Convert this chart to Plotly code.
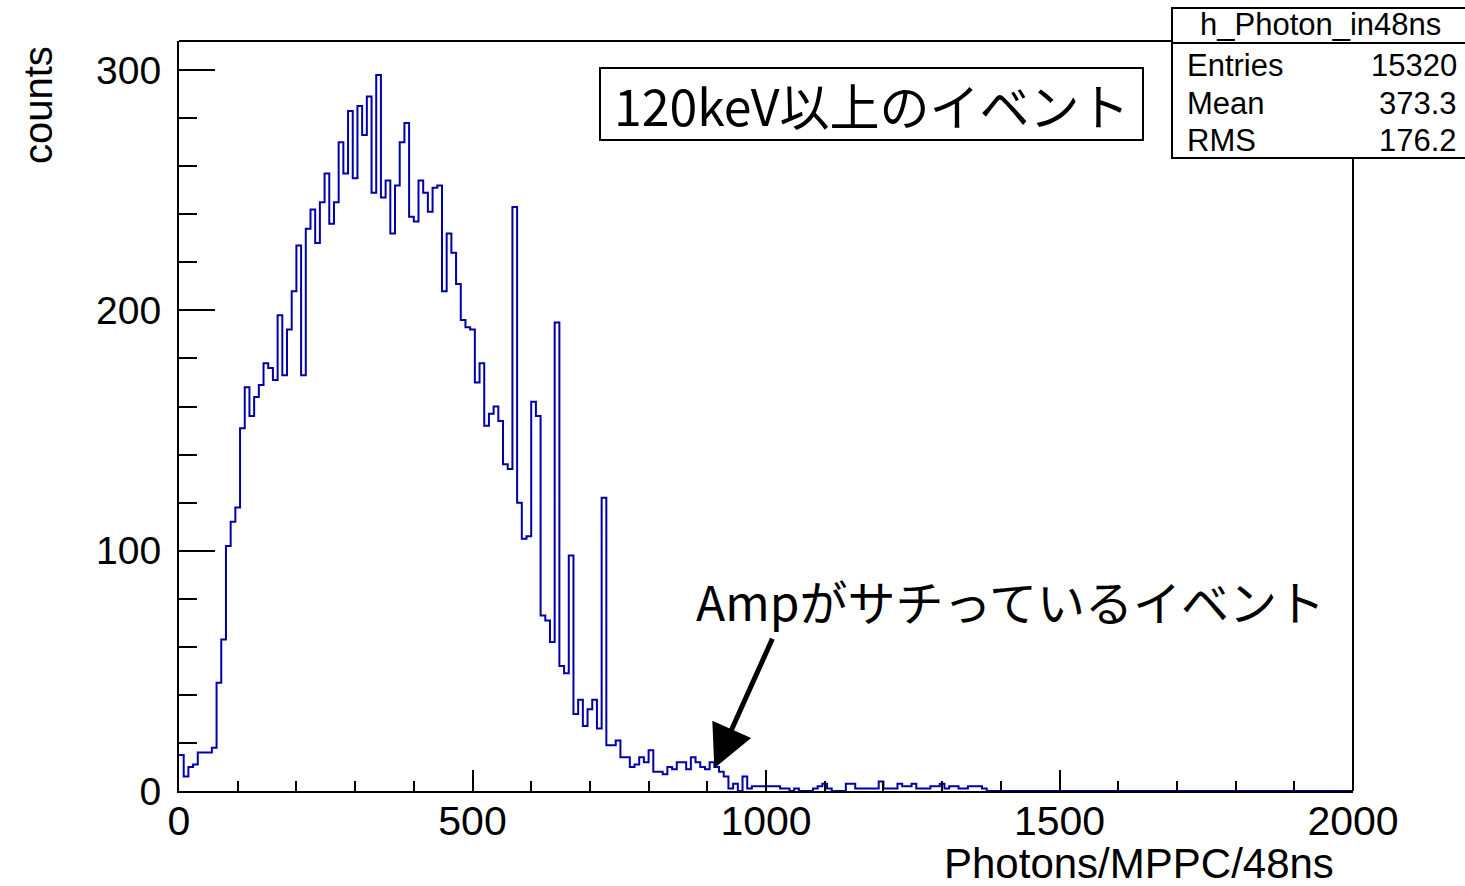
import plotly.graph_objects as go

# ---------------- data ----------------
x_min = 0
x_max = 2000
bin_width = 8  # 250 bins over 0..2000

counts = [
    15, 6, 10, 11, 16, 16, 16, 18, 45, 63,
    102, 112, 118, 151, 168, 156, 164, 169, 178, 176,
    171, 198, 173, 192, 208, 227, 173, 234, 242, 228,
    245, 257, 236, 245, 270, 257, 283, 255, 285, 273,
    289, 249, 298, 247, 254, 232, 252, 270, 278, 239,
    237, 254, 249, 241, 251, 252, 208, 232, 224, 211,
    196, 193, 192, 170, 178, 152, 157, 160, 154, 136,
    134, 243, 120, 105, 106, 162, 156, 73, 71, 62,
    195, 52, 49, 98, 32, 38, 27, 34, 38, 26,
    122, 19, 19, 21, 14, 14, 10, 11, 14, 12,
    17, 8, 8, 7, 10, 9, 12, 12, 9, 14,
    12, 10, 9, 12, 10, 8, 6, 1, 3, 0,
    6, 1, 2, 2, 2, 2, 2, 2, 1, 1,
    0, 1, 0, 0, 0, 1, 2, 3, 1, 0,
    0, 0, 3, 3, 1, 1, 1, 1, 1, 4,
    1, 1, 1, 3, 2, 2, 3, 1, 1, 1,
    2, 2, 3, 1, 2, 2, 1, 1, 2, 2,
    2, 1,
]
counts = counts + [0] * (250 - len(counts))

x_ticks = [0, 500, 1000, 1500, 2000]
y_ticks = [0, 100, 200, 300]

stats_title = "h_Photon_in48ns"
stats_names = ["Entries", "Mean", "RMS"]
stats_values = ["15320", "373.3", "176.2"]

box_label = "120keV以上のイベント"
arrow_label = "Ampがサチっているイベント"
arrow_tip = (912, 9.5)
arrow_tail = (1012, 64)

# ---------------- figure ----------------
edges = [x_min + i * bin_width for i in range(len(counts) + 1)]
xs = edges
ys = counts + [counts[-1]]

fig = go.Figure()
fig.add_trace(go.Scatter(
    x=xs, y=ys, mode="lines", line=dict(color="#0000a8", width=2, shape="hv"),
    hoverinfo="skip", showlegend=False,
))

LAB = "Liberation Sans, Arial, Helvetica, sans-serif"
JP = "Noto Sans CJK JP, sans-serif"

fig.update_layout(
    width=1465, height=886,
    margin=dict(l=179, r=112, t=41, b=95),
    paper_bgcolor="white", plot_bgcolor="white",
    showlegend=False,
    xaxis=dict(
        range=[x_min, x_max], tickvals=x_ticks, ticktext=[str(v) for v in x_ticks],
        ticks="inside", ticklen=21, tickwidth=2, tickcolor="black",
        minor=dict(dtick=100, ticks="inside", ticklen=10, tickwidth=2, tickcolor="black"),
        showline=True, linecolor="black", linewidth=2, showgrid=False, zeroline=False,
        tickfont=dict(family=LAB, size=41, color="black"), ticklabelstandoff=-7,
    ),
    yaxis=dict(
        range=[0, 312.1], tickvals=y_ticks, ticktext=[str(v) for v in y_ticks],
        ticks="inside", ticklen=36, tickwidth=2, tickcolor="black",
        minor=dict(dtick=20, ticks="inside", ticklen=18, tickwidth=2, tickcolor="black"),
        showline=True, linecolor="black", linewidth=2, showgrid=False, zeroline=False,
        tickfont=dict(family=LAB, size=39, color="black"), ticklabelstandoff=8,
    ),
)

def px_x(p):
    return (p - 179) / 1174.0

def px_y(p):
    return (791 - p) / 750.0

shapes = []
# frame top and right
shapes.append(dict(type="line", xref="paper", yref="paper", x0=0, x1=1, y0=1, y1=1,
                   line=dict(color="black", width=2), layer="above"))
shapes.append(dict(type="line", xref="paper", yref="paper", x0=1, x1=1, y0=0, y1=1,
                   line=dict(color="black", width=2), layer="above"))
# stats box
shapes.append(dict(type="rect", xref="paper", yref="paper",
                   x0=px_x(1172), x1=px_x(1475), y0=px_y(158), y1=px_y(8),
                   fillcolor="white", line=dict(color="black", width=2), layer="above"))
shapes.append(dict(type="line", xref="paper", yref="paper",
                   x0=px_x(1172), x1=px_x(1475), y0=px_y(43), y1=px_y(43),
                   line=dict(color="black", width=2), layer="above"))
# text box
shapes.append(dict(type="rect", xref="paper", yref="paper",
                   x0=px_x(600), x1=px_x(1143), y0=px_y(140), y1=px_y(68),
                   fillcolor="white", line=dict(color="black", width=2), layer="above"))
fig.update_layout(shapes=shapes)

ann = []
ann.append(dict(text=stats_title, xref="paper", yref="paper", x=px_x(1320), y=px_y(25),
                xanchor="center", yanchor="middle", showarrow=False,
                font=dict(family=LAB, size=31, color="black")))
for i, (n, v) in enumerate(zip(stats_names, stats_values)):
    yy = [65, 103, 140][i]
    ann.append(dict(text=n, xref="paper", yref="paper", x=px_x(1185), y=px_y(yy),
                    xanchor="left", yanchor="middle", showarrow=False,
                    font=dict(family=LAB, size=31, color="black")))
    ann.append(dict(text=v, xref="paper", yref="paper", x=px_x(1459), y=px_y(yy),
                    xanchor="right", yanchor="middle", showarrow=False,
                    font=dict(family=LAB, size=31, color="black")))

ann.append(dict(text=box_label, xref="paper", yref="paper", x=px_x(871), y=px_y(104),
                xanchor="center", yanchor="middle", showarrow=False,
                font=dict(family=JP, size=50, color="black")))
ann.append(dict(text=arrow_label, xref="paper", yref="paper", x=px_x(694), y=px_y(600),
                xanchor="left", yanchor="middle", showarrow=False,
                font=dict(family=JP, size=48, color="black")))
ann.append(dict(text="", x=arrow_tip[0], y=arrow_tip[1], xref="x", yref="y",
                ax=arrow_tail[0], ay=arrow_tail[1], axref="x", ayref="y",
                showarrow=True, arrowhead=2, arrowsize=1.7, arrowwidth=5,
                arrowcolor="black", standoff=0, startstandoff=0))
# axis titles
ann.append(dict(text="counts", xref="paper", yref="paper", x=px_x(38), y=px_y(105),
                xanchor="center", yanchor="middle", textangle=-90, showarrow=False,
                font=dict(family=LAB, size=40, color="black")))
ann.append(dict(text="Photons/MPPC/48ns", xref="paper", yref="paper", x=px_x(1336), y=px_y(863),
                xanchor="right", yanchor="middle", showarrow=False,
                font=dict(family=LAB, size=42, color="black")))
fig.update_layout(annotations=ann)

fig.write_html("out.html",
               config={"displayModeBar": False},
               post_script="document.body.style.margin='0';document.body.style.overflow='hidden';")
